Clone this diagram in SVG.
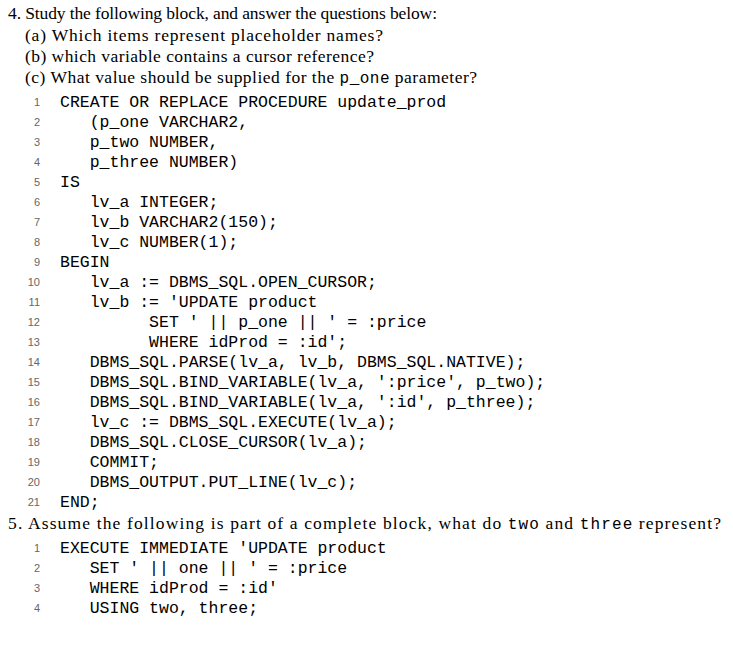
<svg xmlns="http://www.w3.org/2000/svg" width="733" height="666" viewBox="0 0 733 666">
<style>
.h{font-family:"Liberation Serif",serif;font-size:17.5px;fill:#000}
.c{font-family:"Liberation Mono",monospace;font-size:16.5px;fill:#000;white-space:pre}
.n{font-family:"Liberation Sans",sans-serif;font-size:11px;fill:#666;text-anchor:end}
.m{font-family:"Liberation Mono",monospace;font-size:16px}
</style>
<rect width="733" height="666" fill="#fff"/>
<g id="q4">
<text class="h" x="8" y="19" textLength="429" lengthAdjust="spacing">4. Study the following block, and answer the questions below:</text>
<text class="h" x="25" y="41" textLength="358" lengthAdjust="spacing">(a) Which items represent placeholder names?</text>
<text class="h" x="25" y="62" textLength="349" lengthAdjust="spacing">(b) which variable contains a cursor reference?</text>
<text class="h" x="25" y="83" textLength="452" lengthAdjust="spacing">(c) What value should be supplied for the <tspan class="m">p_one</tspan> parameter?</text>
</g>
<g id="code1">
<text class="n" x="40" y="106">1</text><text class="c" x="60" y="107">CREATE OR REPLACE PROCEDURE update_prod</text>
<text class="n" x="40" y="126">2</text><text class="c" x="60" y="127">   (p_one VARCHAR2,</text>
<text class="n" x="40" y="146">3</text><text class="c" x="60" y="147">   p_two NUMBER,</text>
<text class="n" x="40" y="166">4</text><text class="c" x="60" y="167">   p_three NUMBER)</text>
<text class="n" x="40" y="186">5</text><text class="c" x="60" y="187">IS</text>
<text class="n" x="40" y="206">6</text><text class="c" x="60" y="207">   lv_a INTEGER;</text>
<text class="n" x="40" y="226">7</text><text class="c" x="60" y="227">   lv_b VARCHAR2(150);</text>
<text class="n" x="40" y="246">8</text><text class="c" x="60" y="247">   lv_c NUMBER(1);</text>
<text class="n" x="40" y="266">9</text><text class="c" x="60" y="267">BEGIN</text>
<text class="n" x="40" y="286">10</text><text class="c" x="60" y="287">   lv_a := DBMS_SQL.OPEN_CURSOR;</text>
<text class="n" x="40" y="306">11</text><text class="c" x="60" y="307">   lv_b := 'UPDATE product</text>
<text class="n" x="40" y="326">12</text><text class="c" x="60" y="327">         SET ' || p_one || ' = :price</text>
<text class="n" x="40" y="346">13</text><text class="c" x="60" y="347">         WHERE idProd = :id';</text>
<text class="n" x="40" y="366">14</text><text class="c" x="60" y="367">   DBMS_SQL.PARSE(lv_a, lv_b, DBMS_SQL.NATIVE);</text>
<text class="n" x="40" y="386">15</text><text class="c" x="60" y="387">   DBMS_SQL.BIND_VARIABLE(lv_a, ':price', p_two);</text>
<text class="n" x="40" y="406">16</text><text class="c" x="60" y="407">   DBMS_SQL.BIND_VARIABLE(lv_a, ':id', p_three);</text>
<text class="n" x="40" y="426">17</text><text class="c" x="60" y="427">   lv_c := DBMS_SQL.EXECUTE(lv_a);</text>
<text class="n" x="40" y="446">18</text><text class="c" x="60" y="447">   DBMS_SQL.CLOSE_CURSOR(lv_a);</text>
<text class="n" x="40" y="466">19</text><text class="c" x="60" y="467">   COMMIT;</text>
<text class="n" x="40" y="486">20</text><text class="c" x="60" y="487">   DBMS_OUTPUT.PUT_LINE(lv_c);</text>
<text class="n" x="40" y="506">21</text><text class="c" x="60" y="507">END;</text>
</g>
<g id="q5">
<text class="h" x="8" y="529" textLength="713" lengthAdjust="spacing">5. Assume the following is part of a complete block, what do <tspan class="m">two</tspan> and <tspan class="m">three</tspan> represent?</text>
</g>
<g id="code2">
<text class="n" x="40" y="552">1</text><text class="c" x="60" y="553">EXECUTE IMMEDIATE 'UPDATE product</text>
<text class="n" x="40" y="572">2</text><text class="c" x="60" y="573">   SET ' || one || ' = :price</text>
<text class="n" x="40" y="592">3</text><text class="c" x="60" y="593">   WHERE idProd = :id'</text>
<text class="n" x="40" y="612">4</text><text class="c" x="60" y="613">   USING two, three;</text>
</g>
</svg>
